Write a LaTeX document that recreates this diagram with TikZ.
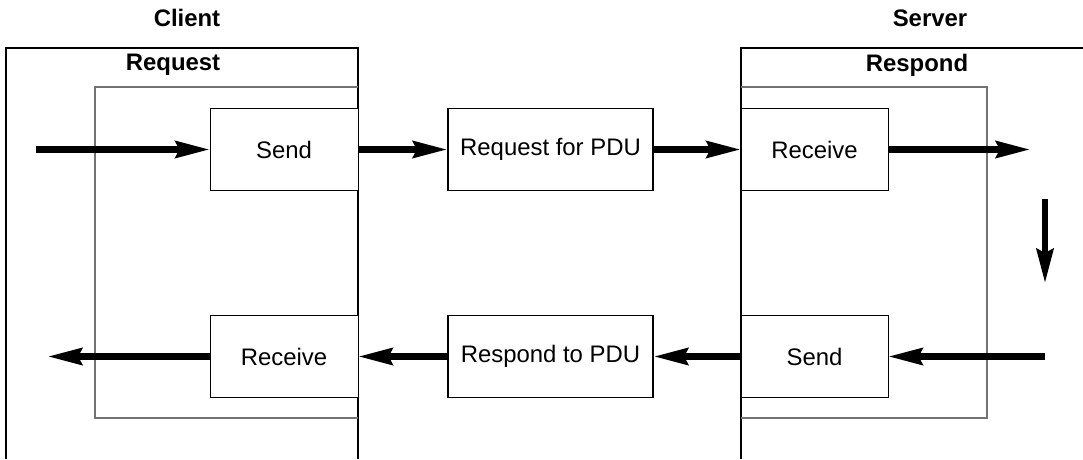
\documentclass[tikz,border=0pt]{standalone}
\usepackage{fontspec}
\setmainfont{Liberation Sans}
\usepackage{tikz}
\usetikzlibrary{arrows.meta}
\definecolor{framegray}{gray}{0.45}

\tikzset{
  partbox/.style={draw, line width=0.7pt, fill=white, inner sep=0pt,
    minimum height=2.05cm, font=\fontsize{17}{20}\selectfont},
  pdubox/.style={partbox, line width=1.4pt, minimum width=5.125cm},
  headlabel/.style={font=\fontsize{17}{20}\selectfont\bfseries},
  outerframe/.style={line width=1.4pt},
  innerframe/.style={draw=framegray, line width=1pt},
  flowarrow/.style={line width=4.3pt,
    -{Stealth[length=0.85cm, width=0.42cm, inset=0.1cm]}}
}

\begin{document}
\begin{tikzpicture}
		\useasboundingbox (0,0) rectangle (27.075, 11.475);

		% client and server frames
		\draw[outerframe] (0.15,0) -- (0.15,10.275) -- (8.95,10.275) -- (8.95,0);
		\draw[outerframe] (27.075,10.275) -- (18.525,10.275) -- (18.525,0);
		\draw[innerframe] (8.95,9.3) -- (2.375,9.3) -- (2.375,1.025) -- (8.95,1.025);
		\draw[innerframe] (18.525,9.3) -- (24.675,9.3) -- (24.675,1.025) -- (18.525,1.025);

		\node[headlabel] (client) at (4.675, 11.025) {Client};
		\node[headlabel] (server) at (23.25, 11.025) {Server};
		\node[headlabel] (request) at (4.325, 9.85) {Request};
		\node[headlabel] (respond) at (22.925, 9.85) {Respond};

		% top row
		\node[partbox, minimum width=3.7cm] (sendL) at (7.1, 7.7375) {Send};
		\node[pdubox] (reqpdu) at (13.7625, 7.7375) {Request for PDU};
		\node[partbox, minimum width=3.675cm] (recvR) at (20.3625, 7.7375) {Receive};

		% bottom row
		\node[partbox, minimum width=3.7cm] (recvL) at (7.1, 2.5625) {Receive};
		\node[pdubox] (resppdu) at (13.7625, 2.5625) {Respond to PDU};
		\node[partbox, minimum width=3.675cm] (sendR) at (20.3625, 2.5625) {Send};

		\coordinate (inL) at (0.9, 7.7375);
		\coordinate (outR) at (25.75, 7.7375);
		\coordinate (downtop) at (26.125, 6.5);
		\coordinate (downend) at (26.125, 4.4);
		\coordinate (inR) at (26.125, 2.5625);
		\coordinate (outL) at (1.2, 2.5625);

		\draw[flowarrow] (inL) -- (sendL);
		\draw[flowarrow] (sendL) -- (reqpdu);
		\draw[flowarrow] (reqpdu) -- (recvR);
		\draw[flowarrow] (recvR) -- (outR);
		\draw[flowarrow] (downtop) -- (downend);
		\draw[flowarrow] (inR) -- (sendR);
		\draw[flowarrow] (sendR) -- (resppdu);
		\draw[flowarrow] (resppdu) -- (recvL);
		\draw[flowarrow] (recvL) -- (outL);
	\end{tikzpicture}
\end{document}
